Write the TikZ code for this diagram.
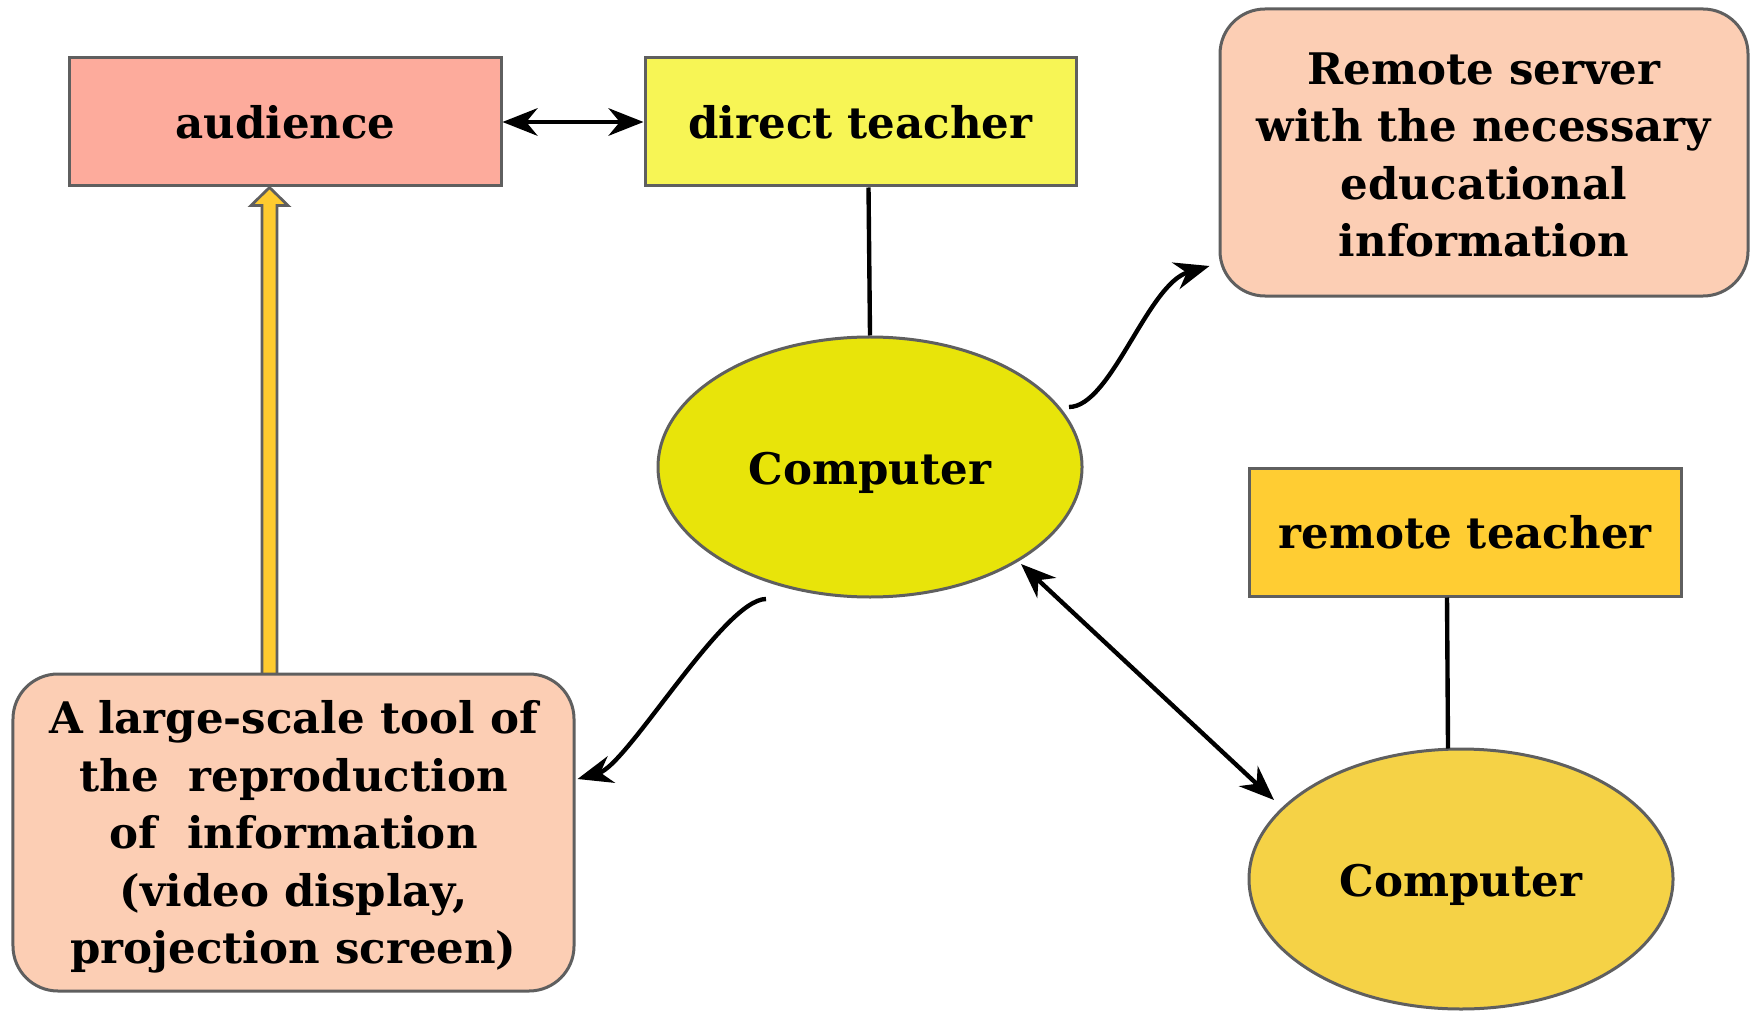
\documentclass[tikz,border=0pt]{standalone}
\usepackage{fontspec}
\setmainfont{DejaVu Serif}
\usetikzlibrary{arrows.meta,shapes.geometric,calc}

\definecolor{edgegray}{HTML}{5F5F5F}
\definecolor{salmon}{HTML}{FDAB9C}
\definecolor{lemon}{HTML}{F7F555}
\definecolor{peach}{HTML}{FCCEB4}
\definecolor{olive}{HTML}{E8E40A}
\definecolor{amber}{HTML}{FFCD33}
\definecolor{gold}{HTML}{F5D246}
\definecolor{shaftfill}{HTML}{FECB2F}

\newcommand{\labelfont}{\fontsize{17.4}{23}\selectfont\bfseries}
% move a label down without changing the size of its box
\newcommand{\lowered}[2]{\raisebox{-#1}[\height][\depth]{#2}}

\begin{document}
\begin{tikzpicture}[x=0.4pt,y=-0.4pt,
  box/.style={draw=edgegray, line width=1.2pt, font=\labelfont, align=center, inner sep=0pt},
  rbox/.style={box, rounded corners=18pt},
  oval/.style={ellipse, draw=edgegray, line width=1.2pt, font=\labelfont, inner sep=0pt,
               minimum width=169.6pt, minimum height=104pt},
  link/.style={line width=1.75pt},
  tipend/.style={-{Stealth[length=14pt,width=11pt,inset=4.5pt]}},
  tipboth/.style={{Stealth[length=14pt,width=11pt,inset=4.5pt]}-{Stealth[length=14pt,width=11pt,inset=4.5pt]}},
  hollow/.style={draw=edgegray, line width=1.1pt, fill=shaftfill, line join=miter}
]
\useasboundingbox (0,0) rectangle (1750,1011);

% boxes
\node[box, fill=salmon, minimum width=172.4pt, minimum height=51.2pt] (aud) at (285.5,122) {audience};
\node[box, fill=lemon, minimum width=172.4pt, minimum height=51.2pt] (dt) at (860.5,122) {direct teacher};
\node[rbox, fill=peach, minimum width=211.2pt, minimum height=114.8pt] (srv) at (1484,152.5)
  {\lowered{1pt}{\parbox{200pt}{\centering Remote server\\with the necessary\\educational\\information}}};
\node[box, fill=amber, minimum width=172.8pt, minimum height=51.2pt] (rt) at (1465,532) {remote teacher};
\node[oval, fill=olive] (c1) at (870,467) {\lowered{2.2pt}{Computer}};
\node[oval, fill=gold] (c2) at (1461,879) {\lowered{2.2pt}{Computer}};

% hollow arrow from the reproduction tool up to the audience
\coordinate (ht) at ($(aud.south)+(-16,0)$);
\coordinate (hb) at (ht |- 0,674);
\draw[hollow] ($(hb)+(-7.5,0)$) -- ($(ht)+(-7.5,18)$) -- ($(ht)+(-18.5,18)$) -- (ht)
  -- ($(ht)+(18.5,18)$) -- ($(ht)+(7.5,18)$) -- ($(hb)+(7.5,0)$);

\node[rbox, fill=peach, minimum width=224.4pt, minimum height=126.8pt] (tool) at (293.5,832.5)
  {\lowered{1.8pt}{\parbox{220pt}{\centering A large-scale tool of\\the~~reproduction\\of~~information\\(video display,\\projection screen)}}};

% connectors
\draw[link, tipboth] (aud.east) -- (dt.west);
\draw[link] ($(dt.south)+(8,0)$) -- (c1.north);
\draw[link] ($(rt.south)+(-18,0)$) -- ($(c2.north)+(-13,1)$);

\coordinate (s1) at ($(c1.center)+(199,-60)$);
\coordinate (e1) at ($(srv.west)+(-9,113.5)$);
\draw[link, tipend] (s1) .. controls ($(s1)+(42,0)$) and ($(e1)+(-62,18)$) .. (e1);

\coordinate (s2) at ($(c1.center)+(-104,132)$);
\coordinate (e2) at ($(tool.east)+(2,-53.5)$);
\draw[link, tipend] (s2) .. controls ($(s2)+(-42,0)$) and ($(e2)+(50,-14)$) .. (e2);

\draw[link, tipboth] ($(c1.center)+(151,97)$) -- ($(c2.center)+(-187,-79)$);
\end{tikzpicture}
\end{document}
